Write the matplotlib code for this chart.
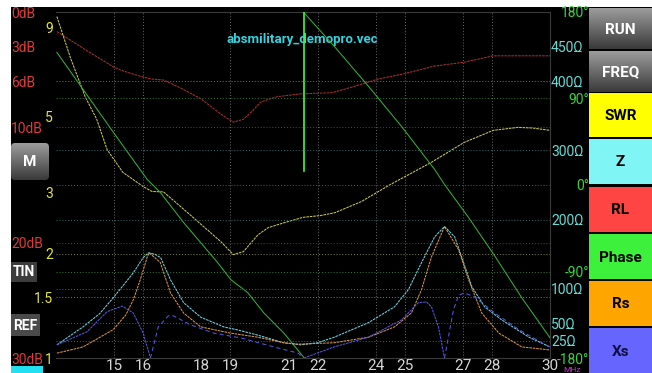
import matplotlib
matplotlib.use("Agg")
import matplotlib.pyplot as plt
import numpy as np
from matplotlib.colors import LinearSegmentedColormap
from matplotlib.patches import FancyBboxPatch, Rectangle

plt.rcParams['font.family'] = ['Roboto', 'DejaVu Sans']

W, H = 652, 373

# ---- sweep data (MHz) ----
rl_mhz = [13.03, 14.0, 15.0, 15.3, 15.8, 16.25, 16.7, 17.3, 18.0, 18.67, 19.1,
          19.45, 19.75, 20.05, 20.6, 21.4, 22.5, 23.2, 24.1, 24.9, 26.0, 27.05,
          28.05, 29.0, 30.0]
rl_db = [1.7, 3.25, 4.8, 5.1, 5.5, 5.8, 5.9, 6.6, 7.55, 8.85, 9.55,
         9.3, 8.6, 7.8, 7.35, 7.1, 7.0, 6.5, 5.8, 5.4, 4.7, 4.35,
         3.8, 3.8, 3.8]

swr_mhz = [13.03, 13.5, 14.0, 14.4, 14.76, 15.3, 16.0, 16.3, 16.7, 17.2, 18.0,
           18.67, 19.1, 19.45, 19.95, 20.3, 20.85, 21.5, 22.1, 22.6, 23.5, 24.5,
           25.9, 27.05, 28.05, 28.9, 29.4, 30.0]
swr = [9.7, 7.36, 5.7, 4.9, 4.0, 3.44, 3.13, 3.03, 3.02, 2.78, 2.43,
       2.17, 1.99, 2.03, 2.27, 2.38, 2.46, 2.55, 2.58, 2.63, 2.83, 3.17,
       3.67, 4.2, 4.55, 4.64, 4.62, 4.55]

# phase wraps from -180 to +180 near the marker
ph_mhz = [13.03, 14.97, 16.14, 16.59, 17.39, 17.98, 18.57, 19.02, 19.6, 20.15,
          20.84, 21.52, 21.53, 21.54, 22.57, 23.75, 24.89, 26.03, 26.37, 27.2,
          28.07, 29.03, 30.0]
phase_deg = [138, 55, 5.7, -7.8, -39, -60, -81, -98.6, -112, -133,
             -154, -179, np.nan, 179, 144.5, 102.8, 61, 16.2, 0.5, -33.9,
             -72.5, -117.4, -159]

z_mhz = [13.03, 13.93, 14.5, 14.97, 15.66, 16.0, 16.18, 16.4, 16.6, 16.94, 17.39,
         17.98, 18.77, 19.25, 19.95, 20.84, 21.43, 22.0, 22.57, 23.75, 24.65,
         25.13, 25.58, 26.03, 26.37, 26.72, 26.96, 27.31, 27.75, 28.34, 29.28, 30.0]
z_ohm = [19, 45, 64, 87, 123, 145, 152, 150, 145, 113, 80,
         59, 45, 40.6, 33, 22, 19, 22, 30, 51, 74,
         99, 138, 175, 190, 175, 146, 103, 74, 55, 30, 16]

rs_mhz = [13.03, 13.93, 14.97, 15.4, 15.66, 15.9, 16.14, 16.21, 16.59, 16.94,
          17.39, 17.98, 19.0, 19.95, 20.84, 21.33, 22.57, 23.75, 24.65, 25.23,
          25.58, 25.92, 26.37, 26.86, 27.2, 27.65, 28.24, 29.03, 30.0]
rs_ohm = [7, 16, 41, 62, 84, 113, 146, 152, 138, 94,
          65, 45, 36, 30, 22, 20, 22, 30, 45, 65,
          99, 146, 190, 156, 113, 65, 36, 16, 11.6]

xs_mhz = [13.03, 14.07, 14.76, 15.28, 15.66, 16.0, 16.25, 16.52, 16.87, 17.04,
          17.63, 18.42, 19.36, 20.5, 21.33, 21.53, 22.57, 23.75, 24.89, 25.47,
          25.75, 25.92, 26.16, 26.37, 26.68, 26.86, 27.06, 27.41, 28.1, 28.93, 29.97]
xs_ohm = [19, 38, 67, 75, 65, 36, 0, -45, -61, -61,
          -48, -36, -29, -16, -7, 0, 16, 30, 55, 80,
          81, 74, 45, 0, -70, -91, -94, -88, -65, -41, -16]

marker_mhz = 21.53

# ---- scales ----
freq_ticks = [15, 16, 18, 19, 21, 22, 24, 25, 27, 28, 30]
freq_grid = [15, 16, 19, 22, 24, 25, 27, 28]
rl_ticks = [0, 3, 6, 10, 20, 30]
rl_grid = [6, 10, 20]
swr_ticks = [1, 1.5, 2, 3, 5, 9]
swr_labels = ['1', '1.5', '2', '3', '5', '9']
swr_grid = [1.5, 2]
ph_ticks = [180, 90, 0, -90, -180]
ph_grid = [90, 0, -90]
z_ticks = [450, 400, 300, 200, 100, 50, 25]
z_grid = [400, 300, 200, 100, 50, 25]

buttons = [('RUN', None, 'white'), ('FREQ', None, 'white'),
           ('SWR', '#ffff00', 'black'), ('Z', '#7ff5f5', 'black'),
           ('RL', '#ff4444', 'black'), ('Phase', '#3cf03c', 'black'),
           ('Rs', '#ffa500', 'black'), ('Xs', '#6666ff', '#101040')]
button_rows = [(8, 49), (51, 92), (93, 137), (139, 184),
               (187, 232), (234, 279), (281, 326), (328, 373)]

RED, YEL, GRN, CYN = '#dd3a3a', '#e4e440', '#3ad43a', '#66dcd6'
DOT = (0, (1, 2))
px = 72 / 100  # points per pixel


def frac(x0, y0, x1, y1):
    return [x0 / W, 1 - y1 / H, (x1 - x0) / W, (y1 - y0) / H]


fig = plt.figure(figsize=(W / 100, H / 100), dpi=100, facecolor='white')

# background / buttons layer in pixel units
ov = fig.add_axes([0, 0, 1, 1], zorder=0)
ov.axis('off')
ov.add_patch(Rectangle((11, 7), W - 11, H - 7, color='black', lw=0))
gray = LinearSegmentedColormap.from_list('btn', ['#9c9c9c', '#3a3a3a'])
grad = np.linspace(0, 1, 64)[:, None]

for (label, face, fg), (y0, y1) in zip(buttons, button_rows):
    if face is None:
        ov.imshow(grad, cmap=gray, extent=(589, W, y1, y0), aspect='auto', zorder=1)
    else:
        ov.add_patch(Rectangle((589, y0), W - 589, y1 - y0, color=face, lw=0, zorder=1))
    ov.text((589 + W) / 2, (y0 + y1) / 2 + 1, label, color=fg, fontsize=11,
            fontweight='bold', ha='center', va='center', zorder=2)

m_box = FancyBboxPatch((11, 143), 38, 37, boxstyle='round,pad=0,rounding_size=4',
                       fc='none', ec='none')
ov.add_patch(m_box)
im = ov.imshow(grad, cmap=gray, extent=(11, 49, 180, 143), aspect='auto', zorder=1)
im.set_clip_path(m_box)
ov.text(30, 162, 'M', color='white', fontsize=11, fontweight='bold',
        ha='center', va='center', zorder=2)
ov.add_patch(Rectangle((11, 262), 26, 20, color='#3c3c3c', lw=0))
ov.text(24, 272.5, 'TIN', color='white', fontsize=10, fontweight='bold',
        ha='center', va='center')
ov.add_patch(Rectangle((11, 314), 29, 22, color='#4a4a4a', lw=0))
ov.text(25.5, 325.5, 'REF', color='white', fontsize=10, fontweight='bold',
        ha='center', va='center')
ov.add_patch(Rectangle((11, 366), 32, 7, color='#22e0f0', lw=0))
ov.text(302, 39, 'absmilitary_demopro.vec', color='#33d4e0', fontsize=9.5,
        fontweight='bold', ha='center', va='center')
ov.text(563, 369.5, 'MHz', color='#d030d0', fontsize=6, ha='left', va='center')
ov.set_xlim(0, W)
ov.set_ylim(H, 0)

# ---- plot area with four y scales ----
ax = fig.add_axes(frac(56, 12, 550, 358), zorder=1)
ax.set_facecolor('none')
ax_swr = ax.twinx()
ax_ph = ax.twinx()
ax_z = ax.twinx()
for a in (ax_swr, ax_ph, ax_z):
    a.set_zorder(1)
    for s in a.spines.values():
        s.set_visible(False)

ax.set_xlim(13, 30)
ax.set_ylim(30, 0)
ax_swr.set_yscale('log')
ax_swr.set_ylim(1, 10)
ax_ph.set_ylim(-180, 180)
ax_z.set_ylim(0, 500)

for side, s in ax.spines.items():
    s.set_color('#3a3a3a')
    s.set_linewidth(0.8)
ax.spines['left'].set_visible(False)

# grid
for f in freq_grid:
    ax.axvline(f, color='#6a6a6a', ls=DOT, lw=0.7)
for v in rl_grid:
    ax.axhline(v, color='#8a3030', ls=DOT, lw=0.7)
for v in swr_grid:
    ax_swr.axhline(v, color='#8a8a30', ls=DOT, lw=0.7)
for v in ph_grid:
    ax_ph.axhline(v, color='#2f7a2f', ls=DOT, lw=0.7)
for v in z_grid:
    ax_z.axhline(v, color='#2f7070', ls=DOT, lw=0.7)

# traces
LS = (0, (2.5, 0.8))
LW = 0.75
ax.plot(rl_mhz, rl_db, color='#a83030', lw=LW, ls=LS)
ax_swr.plot(swr_mhz, swr, color='#c8c850', lw=LW, ls=LS)
ax_ph.plot(ph_mhz, phase_deg, color='#35b035', lw=LW)
ax_z.plot(z_mhz, z_ohm, color='#70d0e0', lw=LW, ls=LS)
ax_z.plot(rs_mhz, rs_ohm, color='#d89440', lw=LW, ls=LS)
xs = np.array(xs_ohm, dtype=float)
ax_z.plot(xs_mhz, np.where(xs >= 0, np.abs(xs), np.nan), color='#5656de', lw=LW, ls=LS)
ax_z.plot(xs_mhz, np.where(xs <= 0, np.abs(xs), np.nan), color='#5656de', lw=LW,
          ls=(0, (4, 3)))
ax_ph.axvline(marker_mhz, ymin=(358 - 171) / 346, ymax=1, color='#3cff3c', lw=1.2)

# ticks / labels
ax.set_xticks(freq_ticks)
ax.set_xticklabels([str(f) for f in freq_ticks])
ax.tick_params(axis='x', length=0, pad=1, labelsize=11, labelcolor='#d6d6d6')

ax.set_yticks(rl_ticks)
ax.set_yticklabels([f'{v}dB' for v in rl_ticks])
ax.tick_params(axis='y', length=0, pad=45 * px, labelsize=10, labelcolor=RED)
for t in ax.get_yticklabels():
    t.set_horizontalalignment('left')

ax_swr.yaxis.tick_left()
ax_swr.yaxis.set_minor_locator(matplotlib.ticker.NullLocator())
ax_swr.set_yticks(swr_ticks)
ax_swr.set_yticklabels(swr_labels)
ax_swr.tick_params(axis='y', which='both', length=0, pad=3 * px, labelsize=10,
                   labelcolor=YEL)

ax_ph.set_yticks(ph_ticks)
ax_ph.set_yticklabels([f'{v}°' for v in ph_ticks])
ax_ph.tick_params(axis='y', length=0, pad=39 * px, labelsize=10, labelcolor=GRN)
for t in ax_ph.get_yticklabels():
    t.set_horizontalalignment('right')

ax_z.set_yticks(z_ticks)
ax_z.set_yticklabels([f'{v}\u03a9' for v in z_ticks])
ax_z.tick_params(axis='y', length=0, pad=1 * px, labelsize=10, labelcolor=CYN)

fig.savefig('out.png', dpi=100, facecolor=fig.get_facecolor())
